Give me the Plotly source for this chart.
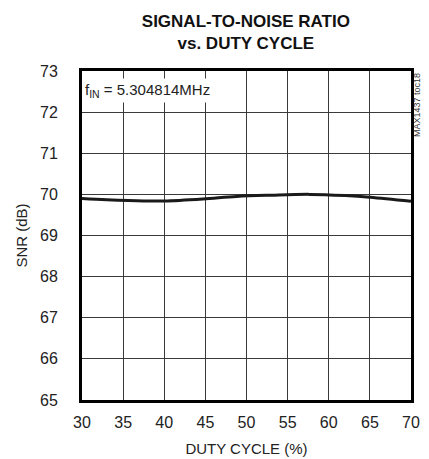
import plotly.graph_objects as go

duty = [30, 33, 37.5, 40, 44.7, 48.8, 53, 57.7, 62, 65, 70]
snr = [69.90, 69.87, 69.84, 69.84, 69.89, 69.95, 69.98, 70.0, 69.97, 69.93, 69.83]

x_ticks = [30, 35, 40, 45, 50, 55, 60, 65, 70]
y_ticks = [65, 66, 67, 68, 69, 70, 71, 72, 73]

FONT = "Liberation Sans Narrow, Arial Narrow, Liberation Sans, Arial, sans-serif"

fig = go.Figure()
fig.add_trace(go.Scatter(x=duty, y=snr, mode="lines",
                         line=dict(color="#1a1a1a", width=3, shape="spline"),
                         showlegend=False, hoverinfo="skip"))

fig.update_layout(
    width=421, height=451,
    margin=dict(l=74, r=18, t=63, b=59),
    paper_bgcolor="white", plot_bgcolor="white",
    font=dict(family=FONT, size=15, color="#222"),
    title=dict(text="<b>SIGNAL-TO-NOISE RATIO<br>vs. DUTY CYCLE</b>", x=0.565, xanchor="center",
               y=0.958, yanchor="top", font=dict(family=FONT, size=17, color="#111")),
    xaxis=dict(range=[30, 70], tickvals=x_ticks, ticktext=[str(v) for v in x_ticks],
               showgrid=True, gridcolor="#3a3a3a", gridwidth=1, zeroline=False,
               showline=True, linecolor="black", linewidth=3, mirror=True,
               ticks="outside", ticklen=6, tickcolor="rgba(0,0,0,0)", automargin=False,
               title=dict(text="DUTY CYCLE (%)", standoff=14, font=dict(size=15)),
               tickfont=dict(size=16)),
    yaxis=dict(range=[65, 73], tickvals=y_ticks, ticktext=[str(v) for v in y_ticks],
               showgrid=True, gridcolor="#3a3a3a", gridwidth=1, zeroline=False,
               showline=True, linecolor="black", linewidth=3, mirror=True,
               ticks="outside", ticklen=18, tickcolor="rgba(0,0,0,0)", automargin=False,
               title=dict(text="SNR (dB)", standoff=9, font=dict(size=15)),
               tickfont=dict(size=16)),
)

fig.add_annotation(x=0.0, y=0.942, xref="paper", yref="paper", xanchor="left", yanchor="middle",
                   text="f<sub>IN</sub> = 5.304814MHz", showarrow=False, bgcolor="white",
                   borderpad=2, font=dict(size=15, color="#222"))
fig.add_annotation(x=1.018, y=1.0, xref="paper", yref="paper", xanchor="center", yanchor="top",
                   text="MAX1437 toc18", textangle=-90, showarrow=False,
                   font=dict(size=9, color="#333"))

fig.write_html("out.html")
